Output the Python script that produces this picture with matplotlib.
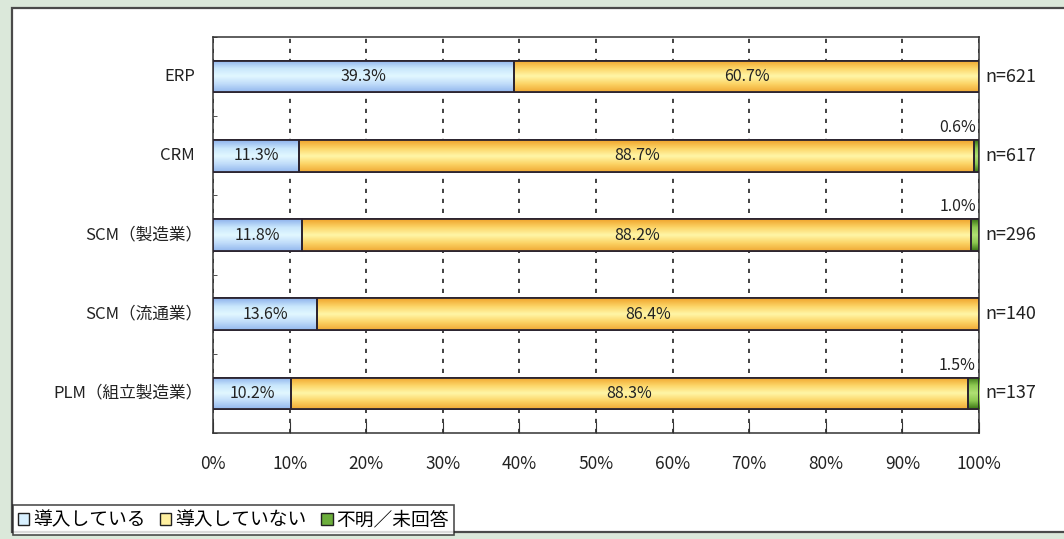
import matplotlib
matplotlib.use("Agg")
import matplotlib.pyplot as plt
import matplotlib.transforms as mtransforms
import numpy as np
from matplotlib.colors import LinearSegmentedColormap
from matplotlib.patches import Rectangle

plt.rcParams["font.family"] = ["Noto Sans CJK JP", "DejaVu Sans"]

# data
categories = ["ERP", "CRM", "SCM（製造業）", "SCM（流通業）", "PLM（組立製造業）"]
adopted = [39.3, 11.3, 11.8, 13.6, 10.2]
not_adopted = [60.7, 88.7, 88.2, 86.4, 88.3]
unknown = [0.0, 0.6, 1.0, 0.0, 1.5]
n_counts = [621, 617, 296, 140, 137]
series_names = ["導入している", "導入していない", "不明／未回答"]
x_ticks = [0, 10, 20, 30, 40, 50, 60, 70, 80, 90, 100]

series = [adopted, not_adopted, unknown]
base_colors = ["#bcdcfc", "#fcd870", "#6cae3c"]
cmaps = [
    LinearSegmentedColormap.from_list("b", ["#8eb2ec", "#c8e6fc", "#e2f8ff", "#c0dcfa", "#94b8ee"]),
    LinearSegmentedColormap.from_list("o", ["#f0a42c", "#fcd466", "#fff6a8", "#fcd466", "#f0aa36"]),
    LinearSegmentedColormap.from_list("g", ["#3a7414", "#8cc850", "#b0e074", "#8cc850", "#3a7414"]),
]
edge = "#2c2430"

fig = plt.figure(figsize=(10.64, 5.39), dpi=100)
fig.patch.set_facecolor("#dbe8da")
fig.patches.append(Rectangle((12 / 1064, 7 / 539), 1.0, 524 / 539, transform=fig.transFigure,
                             facecolor="white", edgecolor="#4a4a4a", lw=1.6, zorder=-10))

ax = fig.add_axes([213 / 1064, 106 / 539, 766 / 1064, 396 / 539])
ax.set_facecolor("white")

y = np.arange(len(categories))
totals = np.array(adopted) + np.array(not_adopted) + np.array(unknown)
bar_h = 0.4
grad = np.linspace(0, 1, 64).reshape(-1, 1)

left = np.zeros(len(categories))
for k, vals in enumerate(series):
    widths = np.array(vals) / totals * 100
    bars = ax.barh(y, widths, left=left, height=bar_h, color=base_colors[k],
                   edgecolor=edge, lw=1.3, zorder=3)
    for b, w in zip(bars, widths):
        if w <= 0:
            continue
        x0, y0 = b.get_x(), b.get_y()
        im = ax.imshow(grad, cmap=cmaps[k], aspect="auto", interpolation="bilinear",
                       extent=(x0, x0 + w, y0, y0 + bar_h), origin="lower", zorder=3.2)
        im.set_clip_path(b)
        ax.add_patch(Rectangle((x0, y0), w, bar_h, fill=False, edgecolor=edge, lw=1.3, zorder=3.5))
    left = left + widths

# labels on segments
lab_font = dict(fontsize=11.5, color="#222222", zorder=5)
ad_w = np.array(adopted) / totals * 100
na_w = np.array(not_adopted) / totals * 100
for i in range(len(categories)):
    ax.text(ad_w[i] / 2, y[i], f"{adopted[i]:.1f}%", ha="center", va="center", **lab_font)
    ax.text(ad_w[i] + na_w[i] / 2, y[i], f"{not_adopted[i]:.1f}%", ha="center", va="center", **lab_font)
    if unknown[i] > 0:
        ax.text(99.6, y[i] - bar_h / 2 - 0.05, f"{unknown[i]:.1f}%", ha="right", va="bottom", **lab_font)
    ax.text(100.8, y[i], f"n={n_counts[i]}", ha="left", va="center", fontsize=13,
            color="#222222", clip_on=False)

# category labels: full-width ")" carries trailing space, so nudge those right
cat_fs = 12
for i, name in enumerate(categories):
    gap = 13 - (0.45 * cat_fs if name.endswith("）") else 0)
    tf = ax.get_yaxis_transform() + mtransforms.ScaledTranslation(-gap / 72, 0, fig.dpi_scale_trans)
    ax.text(0, y[i], name, transform=tf, ha="right", va="center", fontsize=cat_fs,
            color="#222222", clip_on=False)

ax.set_xlim(0, 100)
ax.set_ylim(len(categories) - 0.5, -0.5)
ax.set_xticks(x_ticks)
ax.set_xticklabels([f"{t}%" for t in x_ticks], fontsize=12.5, color="#222222")
ax.set_yticks(y)
ax.set_yticklabels([])
ax.set_yticks(np.arange(len(categories) + 1) - 0.5, minor=True)
ax.tick_params(axis="y", which="major", length=0)
ax.tick_params(axis="y", which="minor", direction="in", length=3, color="#333333")
ax.tick_params(axis="x", direction="in", length=8, pad=16, color="#333333")

ax.xaxis.grid(True, color="#222222", linestyle=(0, (2.5, 3.5)), lw=1.2, zorder=1)
ax.set_axisbelow(True)
for s in ax.spines.values():
    s.set_color("#333333")
    s.set_linewidth(1.1)

handles = [Rectangle((0, 0), 1, 1, facecolor=c, edgecolor="#222222", lw=1.0)
           for c in ["#d8f0ff", "#fff0a0", "#6cae3c"]]
leg = fig.legend(handles, series_names, loc="lower left", bbox_to_anchor=(13 / 1064, 4 / 539),
                 ncol=3, fontsize=13.5, frameon=True, fancybox=False, handlelength=0.6,
                 handleheight=0.6, handletextpad=0.2, columnspacing=0.8, borderpad=0.25,
                 borderaxespad=0)
leg.get_frame().set_edgecolor("#222222")
leg.get_frame().set_linewidth(1.2)

fig.savefig("out.png", dpi=100, facecolor=fig.get_facecolor())
